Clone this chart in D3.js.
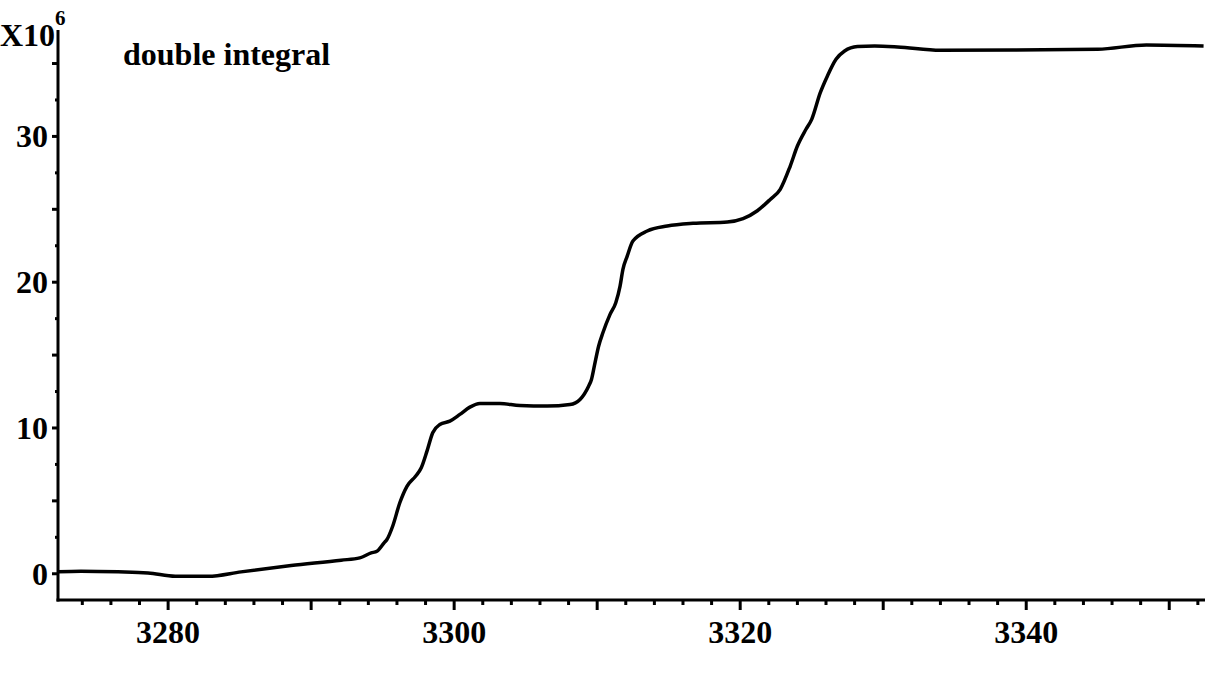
<html>
<head>
    <script src="https://d3js.org/d3.v7.min.js"></script>
    <style>
        body { margin: 0; background: #fff; }
        .lbl { font-family: "Liberation Serif", "Times New Roman", serif; font-weight: bold; fill: #000; }
    </style>
</head>
<body>
    <script>
        // magnetic field (G) and double integral (x10^6)
        var field = [3272.3, 3273.9, 3276.5, 3278.6, 3280.5, 3282.8, 3285.1, 3288.6, 3292.1, 3293.4,
            3294.2, 3294.6, 3295.1, 3295.3, 3295.7, 3296.2, 3296.7, 3297.3, 3297.7, 3298.1,
            3298.5, 3299.0, 3299.7, 3300.4, 3301.1, 3301.8, 3303.2, 3304.6, 3306.5, 3308.1,
            3308.8, 3309.4, 3309.6, 3309.8, 3310.1, 3310.4, 3310.9, 3311.3, 3311.6, 3311.8,
            3312.1, 3312.5, 3313.5, 3314.9, 3316.7, 3319.1, 3320.2, 3321.2, 3322.1, 3322.8,
            3323.5, 3324.0, 3324.6, 3325.0, 3325.6, 3326.1, 3326.7, 3327.3, 3328.2, 3329.4,
            3331.0, 3334.0, 3339.1, 3345.0, 3348.4, 3352.4];
        var integral = [0.13, 0.17, 0.13, 0.06, -0.17, -0.17, 0.13, 0.56, 0.93, 1.09,
            1.43, 1.54, 2.12, 2.35, 3.26, 4.87, 6.0, 6.69, 7.27, 8.41,
            9.67, 10.24, 10.47, 10.93, 11.43, 11.68, 11.68, 11.54, 11.5, 11.61,
            11.96, 12.87, 13.33, 14.24, 15.61, 16.53, 17.79, 18.59, 19.73, 20.88,
            21.79, 22.82, 23.51, 23.85, 24.04, 24.13, 24.36, 24.9, 25.68, 26.37,
            27.97, 29.34, 30.49, 31.17, 33.0, 34.15, 35.29, 35.86, 36.16, 36.2,
            36.14, 35.91, 35.93, 35.98, 36.27, 36.2];
        var xMajor = [3280, 3300, 3320, 3340];
        var yMajor = [0, 10, 20, 30];

        var width = 1208, height = 677;
        var svg = d3.select("body").append("svg")
            .attr("width", width)
            .attr("height", height);

        var x = d3.scaleLinear().domain([3272.3, 3352.5]).range([58, 1205]);
        var y = d3.scaleLinear().domain([-1.8, 37.3]).range([600, 30]);

        var x0 = x.range()[0], yb = y.range()[0];

        // axis lines
        svg.append("line").attr("x1", x0).attr("x2", x0).attr("y1", y(37.3)).attr("y2", yb + 1.5)
            .attr("stroke", "#000").attr("stroke-width", 3);
        svg.append("line").attr("x1", x0 - 1.5).attr("x2", x.range()[1]).attr("y1", yb).attr("y2", yb)
            .attr("stroke", "#000").attr("stroke-width", 3);

        // x ticks: every 2, longer every 10
        var xt = d3.range(3274, 3353, 2);
        svg.selectAll(".xt").data(xt).enter().append("line")
            .attr("x1", function (d) { return x(d); })
            .attr("x2", function (d) { return x(d); })
            .attr("y1", yb)
            .attr("y2", function (d) { return yb + (d % 10 === 0 ? 10 : 5); })
            .attr("stroke", "#000").attr("stroke-width", 3);

        // y ticks: every 2.5, longer every 5
        var yt = d3.range(0, 37.4, 2.5);
        svg.selectAll(".yt").data(yt).enter().append("line")
            .attr("x1", x0)
            .attr("x2", function (d) { return x0 - (d % 5 === 0 ? 6 : 3); })
            .attr("y1", function (d) { return y(d); })
            .attr("y2", function (d) { return y(d); })
            .attr("stroke", "#000").attr("stroke-width", 3);

        svg.selectAll(".xl").data(xMajor).enter().append("text")
            .attr("class", "lbl")
            .attr("x", function (d) { return x(d); })
            .attr("y", 643)
            .attr("text-anchor", "middle")
            .style("font-size", "32px")
            .text(function (d) { return d; });

        svg.selectAll(".yl").data(yMajor).enter().append("text")
            .attr("class", "lbl")
            .attr("x", 48)
            .attr("y", function (d) { return y(d) + 11; })
            .attr("text-anchor", "end")
            .style("font-size", "32px")
            .text(function (d) { return d; });

        // exponent
        var ex = svg.append("text").attr("class", "lbl").attr("x", 0).attr("y", 46).style("font-size", "32px");
        ex.append("tspan").text("X10");
        ex.append("tspan").attr("dy", -21).style("font-size", "21px").text("6");

        svg.append("text").attr("class", "lbl")
            .attr("x", 123).attr("y", 65)
            .style("font-size", "32px")
            .text("double integral");

        var pts = field.map(function (f, i) { return [f, integral[i]]; });
        var line = d3.line()
            .x(function (d) { return x(d[0]); })
            .y(function (d) { return y(d[1]); })
            .curve(d3.curveMonotoneX);

        svg.append("path")
            .datum(pts)
            .attr("fill", "none")
            .attr("stroke", "#000")
            .attr("stroke-width", 3.5)
            .attr("stroke-linejoin", "round")
            .attr("d", line);
    </script>
</body>
</html>
